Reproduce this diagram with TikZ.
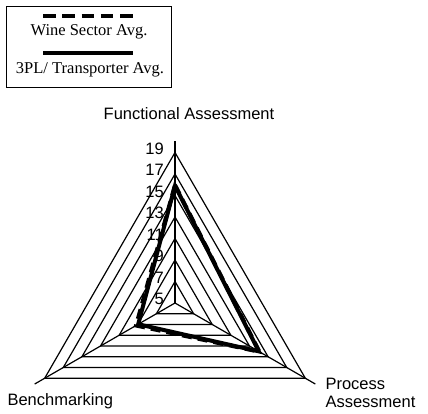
\documentclass[tikz,border=0pt]{standalone}
\usepackage{fontspec}
\setmainfont{Liberation Serif}
\newfontfamily\chartfont{Liberation Sans}
\usetikzlibrary{calc}

\tikzset{
  gridline/.style={line width=1.2},
  seriesline/.style={line width=4,line join=miter},
  ticklabel/.style={anchor=east,inner sep=0,font=\chartfont\fontsize{16.5}{18}\selectfont},
  axistitle/.style={font=\chartfont\fontsize{16.5}{18.5}\selectfont},
  legendtext/.style={font=\fontsize{16.5}{18}\selectfont}
}

\begin{document}
\begin{tikzpicture}[x=1pt,y=1pt]
\useasboundingbox (0,0) rectangle (428,413);

% legend
\draw[line width=0.9] (6,326) rectangle (171,407);
\draw[line width=3.3,dash pattern=on 12.5 off 6.8] (43,397) -- (133,397);
\node[legendtext] (wine) at (89,381) {Wine Sector Avg.};
\draw[line width=3.3] (43,360) -- (133,360);
\node[legendtext] (tpl) at (90,343) {3PL/ Transporter Avg.};

% radar grid
\begin{scope}[shift={(175,110)}]
\coordinate (centre) at (0,0);
\draw[gridline] (centre) -- (90:162);
\draw[gridline] (centre) -- (210:162);
\draw[gridline] (centre) -- (330:162);

\draw[gridline] (90:21.5) -- (210:21.5) -- (330:21.5) -- cycle;
\draw[gridline] (90:43) -- (210:43) -- (330:43) -- cycle;
\draw[gridline] (90:64.5) -- (210:64.5) -- (330:64.5) -- cycle;
\draw[gridline] (90:86) -- (210:86) -- (330:86) -- cycle;
\draw[gridline] (90:107.5) -- (210:107.5) -- (330:107.5) -- cycle;
\draw[gridline] (90:129) -- (210:129) -- (330:129) -- cycle;
\draw[gridline] (90:150.5) -- (210:150.5) -- (330:150.5) -- cycle;

% series
\draw[seriesline,dash pattern=on 10 off 6] (90:118) -- (330:97.5) -- (210:45) -- cycle;
\draw[seriesline] (90:117.2) -- (330:96.75) -- (210:42.5) -- cycle;
\end{scope}

% scale
\node[ticklabel] (t19) at (164,264.5) {19};
\node[ticklabel] (t17) at (164,243) {17};
\node[ticklabel] (t15) at (164,221.5) {15};
\node[ticklabel] (t13) at (164,200) {13};
\node[ticklabel] (t11) at (164,178.5) {11};
\node[ticklabel] (t9) at (164,157) {9};
\node[ticklabel] (t7) at (164,135.5) {7};
\node[ticklabel] (t5) at (164,114) {5};

% axis titles
\node[axistitle] (func) at (189,299) {Functional Assessment};
\node[axistitle,anchor=west,align=left] (proc) at (322,20) {Process\\Assessment};
\node[axistitle,anchor=west] (bench) at (4,12) {Benchmarking};
\end{tikzpicture}
\end{document}
